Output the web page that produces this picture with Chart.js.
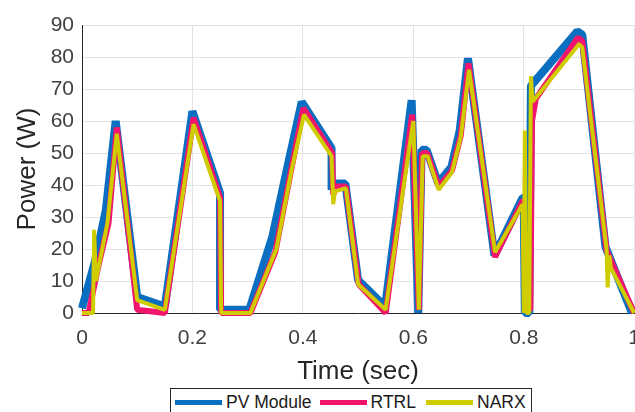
<!DOCTYPE html>
<html>
<head>
<meta charset="utf-8">
<script src="https://cdn.jsdelivr.net/npm/chart.js@4/dist/chart.umd.min.js"></script>
<style>
  html, body { margin: 0; padding: 0; background: #fff; overflow: hidden; }
  #wrap { position: relative; width: 635px; height: 412px; overflow: hidden; }
  #plot { position: absolute; left: 0; top: 0; }
  #legend {
    position: absolute; left: 170px; top: 388px; width: 356px; height: 26px;
    border: 1px solid #262626; background: #fff; white-space: nowrap;
    display: flex; align-items: center; padding-left: 4px;
    font-family: "Liberation Sans", Arial, sans-serif; font-size: 17.5px; color: #1a1a1a;
  }
  #legend .sw { flex: none; width: 47px; height: 5px; margin-right: 4px; }
  #legend .lb { flex: none; margin-right: 8px; }
</style>
</head>
<body>
<div id="wrap">
  <canvas id="plot" width="653" height="412"></canvas>
  <div id="legend">
    <span class="sw" style="background:#0a6fc0"></span><span class="lb">PV Module</span>
    <span class="sw" style="background:#f2156e"></span><span class="lb" style="margin-right:10px">RTRL</span>
    <span class="sw" style="background:#cfcc00"></span><span class="lb">NARX</span>
  </div>
</div>
<script>
// valores
const xTicks = [0, 0.2, 0.4, 0.6, 0.8, 1];
const xLabels = ['0', '0.2', '0.4', '0.6', '0.8', '1'];
const yTicks = [0, 10, 20, 30, 40, 50, 60, 70, 80, 90];

const pvTime = [0, 0.024, 0.043, 0.061, 0.10, 0.15, 0.20, 0.25, 0.25, 0.303, 0.345, 0.375, 0.398,
  0.452, 0.452, 0.457, 0.477, 0.50, 0.549, 0.597, 0.609, 0.615, 0.624, 0.645, 0.669, 0.684, 0.699,
  0.747, 0.798, 0.80, 0.802, 0.81, 0.813, 0.897, 0.906, 0.948, 0.996];
const pvPower = [1.5, 16.5, 32, 60, 5, 2, 63, 37.5, 1, 1, 24, 48, 66,
  51.5, 38.5, 40.5, 40.5, 10.3, 2, 66.5, 0, 51, 51, 40.6, 45.6, 57, 79.6,
  18, 36, 36, 0, 0, 71, 88, 87, 20.7, 0];

const rtrlTime = [0, 0.012, 0.03, 0.048, 0.063, 0.10, 0.15, 0.202, 0.25, 0.252, 0.305, 0.35, 0.378, 0.401,
  0.453, 0.455, 0.46, 0.478, 0.501, 0.55, 0.598, 0.61, 0.616, 0.625, 0.646, 0.67, 0.686, 0.70,
  0.748, 0.798, 0.80, 0.803, 0.812, 0.815, 0.822, 0.898, 0.906, 0.95, 1.0];
const rtrlPower = [0, 0, 15, 28, 58, 1, 0, 61, 36, 0, 0, 19, 44, 64,
  50, 37, 39.5, 39.5, 9, 0, 62, 1, 50, 50, 39.5, 44.5, 55.5, 78,
  17.5, 35, 35, 1, 1, 60, 67, 86, 85, 19.5, 0];

const narxTime = [0, 0.02, 0.022, 0.025, 0.046, 0.063, 0.10, 0.15, 0.202, 0.25, 0.252, 0.305, 0.352, 0.38, 0.402,
  0.452, 0.455, 0.458, 0.478, 0.50, 0.55, 0.593, 0.6, 0.61, 0.617, 0.626, 0.646, 0.67, 0.686, 0.701,
  0.748, 0.798, 0.80, 0.802, 0.805, 0.81, 0.813, 0.816, 0.9, 0.906, 0.95, 0.952, 0.955, 0.958, 1.0];
const narxPower = [0, 0, 26, 10, 28, 56, 4, 1, 59, 35, 0, 0, 20, 45, 62,
  49, 34, 38, 39, 9, 1, 52, 60, 1, 49, 49, 38.5, 44, 55, 76,
  19, 34, 0, 57, 0, 0, 74, 66, 84, 83, 20, 8, 18, 14, 0];

function pts(t, p) { return t.map((x, i) => ({ x: x, y: p[i] })); }

const txt = '#262626';
const tickCol = '#404040';
const font = 'Liberation Sans';

new Chart(document.getElementById('plot'), {
  type: 'line',
  data: {
    datasets: [{
      label: 'PV Module',
      data: pts(pvTime, pvPower),
      borderColor: '#0a6fc0',
      borderWidth: 8,
      order: 3
    }, {
      label: 'RTRL',
      data: pts(rtrlTime, rtrlPower),
      borderColor: '#f2156e',
      borderWidth: 6,
      order: 2
    }, {
      label: 'NARX',
      data: pts(narxTime, narxPower),
      borderColor: '#cfcc00',
      borderWidth: 4,
      order: 1
    }]
  },
  options: {
    responsive: false,
    animation: false,
    datasets: {
      line: { pointRadius: 0, tension: 0, fill: false, borderJoinStyle: 'bevel', clip: 8 }
    },
    layout: { padding: { left: 0, right: 8, top: 25, bottom: 25 } },
    plugins: { legend: { display: false }, tooltip: { enabled: false } },
    scales: {
      x: {
        type: 'linear', min: 0, max: 1,
        afterBuildTicks: (s) => { s.ticks = xTicks.map(v => ({ value: v })); },
        afterFit: (s) => { s.height = 74; },
        ticks: {
          color: tickCol, font: { family: font, size: 21 }, padding: 13, maxRotation: 0,
          callback: (v, i) => xLabels[i]
        },
        grid: { color: '#e3e3e3', drawTicks: false },
        border: { color: txt, width: 1 },
        title: { display: true, text: 'Time (sec)', color: txt, font: { family: font, size: 26 }, padding: 0 }
      },
      y: {
        min: 0, max: 90,
        afterBuildTicks: (s) => { s.ticks = yTicks.map(v => ({ value: v })); },
        afterFit: (s) => { s.width = 82; },
        ticks: { color: tickCol, font: { family: font, size: 21 }, padding: 8 },
        grid: { color: '#e3e3e3', drawTicks: false },
        border: { color: txt, width: 1 },
        title: { display: true, text: 'Power (W)', color: txt, font: { family: font, size: 26 }, padding: { top: 12, bottom: 0 } }
      }
    }
  }
});
</script>
</body>
</html>
